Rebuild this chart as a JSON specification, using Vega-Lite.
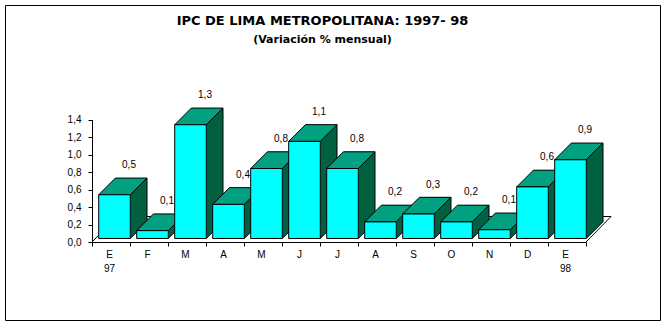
{
  "$schema": "https://vega.github.io/schema/vega-lite/v6.json",
  "width": 655,
  "height": 315,
  "autosize": {"type": "none"},
  "padding": {"left": 5, "top": 5, "right": 5, "bottom": 3},
  "background": "white",
  "title": {
    "text": "IPC DE LIMA METROPOLITANA: 1997- 98",
    "subtitle": "\u00a0\u00a0\u00a0\u00a0\u00a0(Variación % mensual)",
    "anchor": "middle",
    "frame": "group",
    "baseline": "top",
    "font": "DejaVu Sans",
    "fontSize": 13,
    "fontWeight": "bold",
    "color": "black",
    "subtitleFont": "DejaVu Sans",
    "subtitleFontSize": 11,
    "subtitleFontWeight": "bold",
    "subtitleColor": "black",
    "subtitlePadding": 6,
    "offset": -40,
    "dx": -10
  },
  "data": {
    "values": [
      {"mes": "Ene 97", "v": 0.50},
      {"mes": "Feb", "v": 0.09},
      {"mes": "Mar", "v": 1.30},
      {"mes": "Abr", "v": 0.39},
      {"mes": "May", "v": 0.80},
      {"mes": "Jun", "v": 1.11},
      {"mes": "Jul", "v": 0.80},
      {"mes": "Ago", "v": 0.19},
      {"mes": "Set", "v": 0.28},
      {"mes": "Oct", "v": 0.19},
      {"mes": "Nov", "v": 0.10},
      {"mes": "Dic", "v": 0.59},
      {"mes": "Ene 98", "v": 0.90}
    ]
  },
  "encoding": {
    "x": {
      "field": "mes",
      "type": "nominal",
      "sort": null,
      "scale": {"type": "band", "domain": ["Ene 97", "Feb", "Mar", "Abr", "May", "Jun", "Jul", "Ago", "Set", "Oct", "Nov", "Dic", "Ene 98"], "range": [87, 581], "paddingInner": 0, "paddingOuter": 0},
      "axis": {
        "orient": "bottom",
        "offset": -78,
        "title": null,
        "tickBand": "extent",
        "labelAngle": 0,
        "labelExpr": "length(split(datum.label, ' ')) > 1 ? [substring(datum.label, 0, 1), split(datum.label, ' ')[1]] : substring(datum.label, 0, 1)",
        "labelLineHeight": 14,
        "labelPadding": 3,
        "labelOffset": -2,
        "labelOverlap": false,
        "labelBound": false,
        "tickSize": 4
      }
    },
    "y": {
      "field": "v",
      "type": "quantitative",
      "scale": {"domain": [0, 1.4], "range": [237, 114.5], "nice": false, "zero": true},
      "axis": {
        "orient": "left",
        "offset": -87,
        "title": null,
        "values": [0, 0.2, 0.4, 0.6, 0.8, 1.0, 1.2, 1.4],
        "format": ".1f",
        "grid": false,
        "tickSize": 4,
        "labelPadding": 7
      }
    }
  },
  "layer": [
    {
      "transform": [{"filter": "datum.mes == 'Ene 98'"}],
      "mark": {"type": "point", "shape": "M-475,0 L-450,-25.5 L44,-25.5 L19,0", "size": 4, "filled": false, "fill": null, "stroke": "black", "strokeWidth": 1, "opacity": 1},
      "encoding": {"y": {"datum": 0}}
    },
    {
      "mark": {"type": "bar", "fill": "#006040", "strokeWidth": 0, "width": {"band": 0.832}, "xOffset": 20.2, "yOffset": -20.2, "y2Offset": -20.2}
    },
    {
      "mark": {"type": "point", "shape": "M19.3,-23 L36,-23 L36,-20.2 L19.3,-3.5 Z", "size": 4, "filled": true, "fill": "#006040", "strokeWidth": 0, "opacity": 1},
      "encoding": {"y": {"datum": 0}}
    },
    {
      "mark": {"type": "rule", "color": "black", "strokeWidth": 1, "xOffset": 36, "yOffset": -20.2, "y2Offset": -20.2},
      "encoding": {"y2": {"datum": 0}}
    },
    {
      "mark": {"type": "point", "shape": "M19.3,-3.5 L36,-20.2", "size": 4, "filled": false, "fill": null, "stroke": "black", "strokeWidth": 1, "opacity": 1},
      "encoding": {"y": {"datum": 0}}
    },
    {
      "mark": {"type": "point", "shape": "M-12.3,-3.5 L19.3,-3.5 L36,-20.2 L4.4,-20.2 Z", "size": 4, "filled": true, "fill": "#00A080", "stroke": "black", "strokeWidth": 1, "opacity": 1}
    },
    {
      "mark": {"type": "bar", "fill": "#00FFFF", "stroke": "black", "strokeWidth": 1, "width": {"band": 0.832}, "xOffset": 3.5, "yOffset": -3.5, "y2Offset": -3.5}
    },
    {
      "mark": {"type": "text", "dx": 18, "dy": -33, "baseline": "middle", "align": "center", "font": "Liberation Sans", "fontSize": 10, "color": "black"},
      "encoding": {"text": {"field": "v", "type": "quantitative", "format": ".1f"}}
    }
  ],
  "config": {
    "locale": {"number": {"decimal": ",", "thousands": ".", "grouping": [3], "currency": ["", ""]}},
    "view": {"stroke": "black", "strokeWidth": 1},
    "axis": {
      "domainColor": "black",
      "tickColor": "black",
      "labelColor": "black",
      "labelFont": "Liberation Sans",
      "labelFontSize": 10,
      "domainWidth": 1,
      "tickWidth": 1
    }
  }
}
